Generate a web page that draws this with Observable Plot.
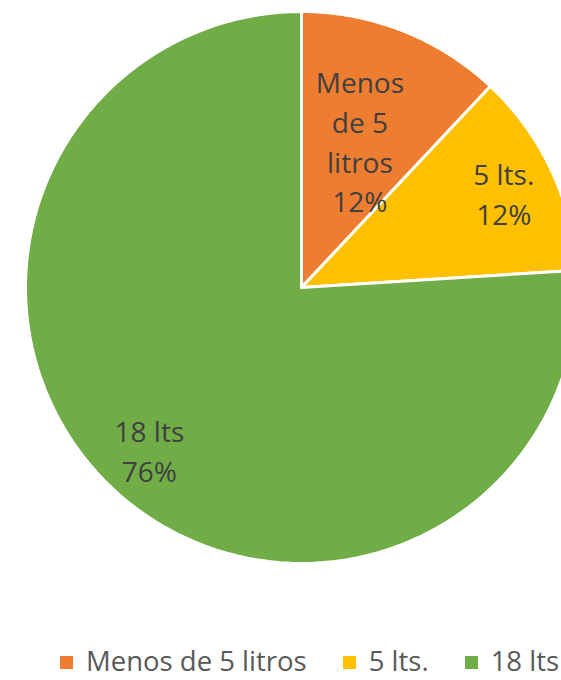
<!DOCTYPE html>
<html>
<head>
<meta charset="utf-8">
<script src="https://cdn.jsdelivr.net/npm/d3@7"></script>
<script src="https://cdn.jsdelivr.net/npm/@observablehq/plot@0.6"></script>
<style>
  html, body { margin: 0; padding: 0; background: #fff; overflow: hidden; }
  #wrap { position: relative; width: 561px; height: 680px; overflow: hidden; font-family: "Open Sans", sans-serif; }
  #legend { position: absolute; left: 60px; top: 647px; display: flex; align-items: center; white-space: nowrap;
            font-size: 27.5px; color: #595959; line-height: 28px; }
  #legend .item { display: flex; align-items: center; margin-right: 36px; }
  #legend .item:last-child { margin-right: 0; }
  #legend .sw { width: 13px; height: 13px; margin-right: 13px; margin-top: 2px; }
</style>
</head>
<body>
<div id="wrap"></div>
<script>
// Data
const categories = ["Menos de 5 litros", "5 lts.", "18 lts"];
const labelText = ["Menos\nde 5\nlitros", "5 lts.", "18 lts"];
const shares = [12, 12, 76];
const colors = ["#ED7D31", "#FFC000", "#70AD47"];

// Layout constants
const W = 561, H = 640, cx = 301, cy = 287, R = 276;
const labelRadius = [0.575, 0.81, 0.805];

const total = d3.sum(shares);
const arcs = d3.pie().sort(null).value(d => d)(shares);

// Build slice outline points in unit-circle coordinates
const slicePts = [];
arcs.forEach((a, i) => {
  const n = 120;
  slicePts.push({cat: categories[i], x: 0, y: 0});
  for (let k = 0; k <= n; k++) {
    const t = a.startAngle + (a.endAngle - a.startAngle) * k / n;
    slicePts.push({cat: categories[i], x: Math.sin(t), y: Math.cos(t)});
  }
  slicePts.push({cat: categories[i], x: 0, y: 0});
});

const labels = arcs.map((a, i) => {
  const m = (a.startAngle + a.endAngle) / 2;
  return {
    cat: categories[i],
    text: labelText[i] + "\n" + Math.round(shares[i] / total * 100) + "%",
    x: Math.sin(m) * labelRadius[i],
    y: Math.cos(m) * labelRadius[i]
  };
});

const chart = Plot.plot({
  width: W,
  height: H,
  margin: 0,
  style: {fontFamily: "'Open Sans', sans-serif", background: "white"},
  x: {domain: [-1, 1], range: [cx - R, cx + R], axis: null},
  y: {domain: [-1, 1], range: [cy + R, cy - R], axis: null},
  color: {domain: categories, range: colors},
  marks: [
    Plot.line(slicePts, {x: "x", y: "y", z: "cat", fill: "cat", stroke: "white", strokeWidth: 3, strokeLinejoin: "round", clip: true}),
    Plot.text(labels, {x: "x", y: "y", text: "text", fontSize: 28, lineHeight: 1.42, fill: "#404040"})
  ]
});

const wrap = document.getElementById("wrap");
wrap.appendChild(chart);

const legend = document.createElement("div");
legend.id = "legend";
categories.forEach((c, i) => {
  const item = document.createElement("div");
  item.className = "item";
  const sw = document.createElement("span");
  sw.className = "sw";
  sw.style.background = colors[i];
  const tx = document.createElement("span");
  tx.textContent = c;
  item.appendChild(sw);
  item.appendChild(tx);
  legend.appendChild(item);
});
wrap.appendChild(legend);
</script>
</body>
</html>
